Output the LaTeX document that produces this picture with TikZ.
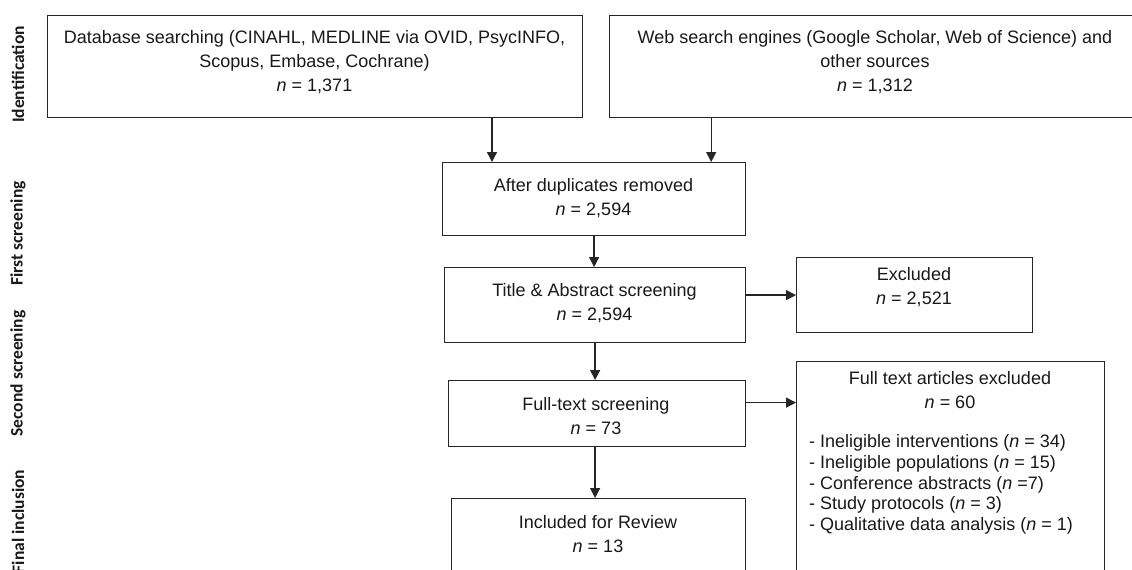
\documentclass[tikz,border=0pt]{standalone}
\usepackage{fontspec}
\setmainfont{Liberation Sans}
\newfontfamily\sidefont{Carlito}
\usetikzlibrary{arrows.meta}
\tikzset{
  box/.style={draw=black!85, line width=1.2pt, rectangle, inner sep=0pt, anchor=north west},
  txt/.style={align=center, inner sep=0pt, font=\fontsize{18}{24}\selectfont, text=black!90},
  listtxt/.style={align=left, inner sep=0pt, anchor=west, font=\fontsize{18}{20.8}\selectfont, text=black!90},
  side/.style={rotate=90, inner sep=0pt, font=\sidefont\bfseries\fontsize{17.5}{20}\selectfont, text=black!90},
  arr/.style={draw=black!85, line width=1.3pt, -{Triangle[length=10pt,width=10pt]}}
}
\begin{document}
\begin{tikzpicture}[x=1pt,y=-1pt]
\clip (0,0) rectangle (1132,570);
\fill[white] (0,0) rectangle (1132,570);

% side labels
\node[side] (l1) at (18,74.5) {Identification};
\node[side] (l2) at (18,233.5) {First screening};
\node[side] (l3) at (18,373.5) {Second screening};
\node[side] (l4) at (18,521.5) {Final inclusion};

% boxes
\node[box, minimum width=535pt, minimum height=102.5pt] (b1) at (47,14.5) {};
\node[box, minimum width=532pt, minimum height=102.5pt] (b2) at (609,14.5) {};
\node[box, minimum width=303pt, minimum height=73pt] (dup) at (442,162) {};
\node[box, minimum width=301pt, minimum height=75pt] (title) at (444,267) {};
\node[box, minimum width=236pt, minimum height=75pt] (excl) at (796,257) {};
\node[box, minimum width=297pt, minimum height=66pt] (ft) at (448,380) {};
\node[box, minimum width=294pt, minimum height=80pt] (incl) at (451,498) {};
\node[box, minimum width=308pt, minimum height=220pt] (fte) at (796,361) {};

% texts
\node[txt] (t1) at (314.5,62.5) {Database searching (CINAHL, MEDLINE via OVID, PsycINFO,\\Scopus, Embase, Cochrane)\\\textit{n} = 1,371};
\node[txt] (t2) at (875,62.5) {Web search engines (Google Scholar, Web of Science) and\\other sources\\\textit{n} = 1,312};
\node[txt] (t3) at (593.5,198) {After duplicates removed\\\textit{n} = 2,594};
\node[txt] (t4) at (594.5,303) {Title \& Abstract screening\\\textit{n} = 2,594};
\node[txt] (t5) at (914,287.5) {Excluded\\\textit{n} = 2,521};
\node[txt] (t6) at (596,416) {Full-text screening\\\textit{n} = 73};
\node[txt] (t7) at (598,534) {Included for Review\\\textit{n} = 13};
\node[txt] (t8) at (950,390.5) {Full text articles excluded\\\textit{n} = 60};
\node[listtxt] (t9) at (809,484.5) {- Ineligible interventions (\textit{n} = 34)\\- Ineligible populations (\textit{n} = 15)\\- Conference abstracts (\textit{n} =7)\\- Study protocols (\textit{n} = 3)\\- Qualitative data analysis (\textit{n} = 1)};

% connectors
\coordinate (c1) at ([xshift=50pt]dup.north west);
\coordinate (c2) at ([xshift=-35pt]dup.north east);
\draw[arr] (c1 |- b1.south) -- (c1);
\draw[arr] (c2 |- b2.south) -- (c2);
\draw[arr] (dup.south) -- (dup.south |- title.north);
\draw[arr] (title.east |- excl.west) -- (excl.west);
\draw[arr] (title.south) -- (title.south |- ft.north);
\coordinate (c3) at ([yshift=11pt]ft.east);
\draw[arr] (c3) -- (c3 -| fte.west);
\draw[arr] (ft.south -| title.south) -- (title.south |- incl.north);
\end{tikzpicture}
\end{document}
